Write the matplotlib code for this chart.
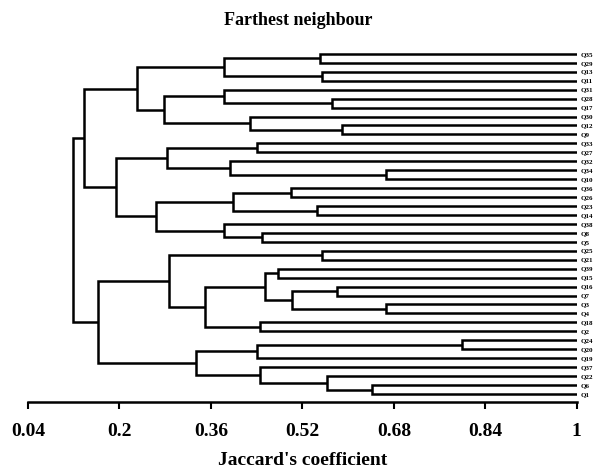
import matplotlib.pyplot as plt

# leaf labels, top to bottom
leaves = ["Q35", "Q29", "Q13", "Q11", "Q31", "Q28", "Q17", "Q30", "Q12", "Q9",
          "Q33", "Q27", "Q32", "Q34", "Q10", "Q36", "Q26", "Q23", "Q14", "Q38",
          "Q8", "Q5", "Q25", "Q21", "Q39", "Q15", "Q16", "Q7", "Q3", "Q4",
          "Q18", "Q2", "Q24", "Q20", "Q19", "Q37", "Q22", "Q6", "Q1"]

# merges (name, left, right, similarity)
merges = [
    ("A1", "Q35", "Q29", 0.550),
    ("A2", "Q13", "Q11", 0.555),
    ("A3", "A1", "A2", 0.382),
    ("A4", "Q28", "Q17", 0.571),
    ("A5", "Q31", "A4", 0.383),
    ("A6", "Q12", "Q9", 0.589),
    ("A7", "Q30", "A6", 0.429),
    ("A8", "A5", "A7", 0.277),
    ("A9", "A3", "A8", 0.230),
    ("B1", "Q33", "Q27", 0.440),
    ("B2", "Q34", "Q10", 0.667),
    ("B3", "Q32", "B2", 0.394),
    ("B4", "B1", "B3", 0.283),
    ("B5", "Q36", "Q26", 0.500),
    ("B6", "Q23", "Q14", 0.546),
    ("B7", "B5", "B6", 0.399),
    ("B8", "Q8", "Q5", 0.449),
    ("B9", "Q38", "B8", 0.382),
    ("B10", "B7", "B9", 0.264),
    ("B11", "B4", "B10", 0.194),
    ("U", "A9", "B11", 0.138),
    ("C1", "Q25", "Q21", 0.554),
    ("C2", "Q39", "Q15", 0.478),
    ("C3", "Q16", "Q7", 0.581),
    ("C4", "Q3", "Q4", 0.667),
    ("C5", "C3", "C4", 0.501),
    ("C6", "C2", "C5", 0.454),
    ("C7", "Q18", "Q2", 0.446),
    ("C8", "C6", "C7", 0.350),
    ("C9", "C1", "C8", 0.287),
    ("D1", "Q24", "Q20", 0.799),
    ("D2", "D1", "Q19", 0.440),
    ("D3", "Q6", "Q1", 0.642),
    ("D4", "Q22", "D3", 0.563),
    ("D5", "Q37", "D4", 0.446),
    ("D6", "D2", "D5", 0.334),
    ("L", "C9", "D6", 0.162),
    ("root", "U", "L", 0.118),
]

xticks = [0.04, 0.2, 0.36, 0.52, 0.68, 0.84, 1]
xtick_labels = ["0.04", "0.2", "0.36", "0.52", "0.68", "0.84", "1"]

plt.rcParams['font.family'] = ['Liberation Serif', 'DejaVu Serif']

fig = plt.figure(figsize=(5.97, 4.73), dpi=100)
ax = fig.add_axes([0.047, 0.150, 0.919, 0.755])

ypos = {name: i for i, name in enumerate(leaves)}
height = {name: 1.0 for name in leaves}

lw = 1.8
for name, left, right, sim in merges:
    yl, yr = ypos[left], ypos[right]
    ax.plot([height[left], sim, sim, height[right]], [yl, yl, yr, yr],
            color='black', lw=lw, solid_joinstyle='miter', solid_capstyle='butt')
    ypos[name] = (yl + yr) / 2
    height[name] = sim

ax.set_xlim(0.04, 1)
ax.set_ylim(38.9, -1)

ax.set_yticks(range(len(leaves)))
ax.set_yticklabels(leaves, fontsize=5, fontweight='bold')
ax.yaxis.tick_right()
ax.tick_params(axis='y', length=0, pad=3)

ax.set_xticks(xticks)
ax.set_xticklabels(xtick_labels, fontsize=14, fontweight='bold')
ax.tick_params(axis='x', direction='out', length=5, width=1.5, pad=10)

for s in ['top', 'left', 'right']:
    ax.spines[s].set_visible(False)
ax.spines['bottom'].set_linewidth(1.8)

ax.set_xlabel("Jaccard's coefficient", fontsize=14, fontweight='bold', labelpad=9)
fig.text(0.5, 0.975, "Farthest neighbour", ha='center', va='top',
         fontsize=13, fontweight='bold')

fig.savefig('out.png', dpi=100)
